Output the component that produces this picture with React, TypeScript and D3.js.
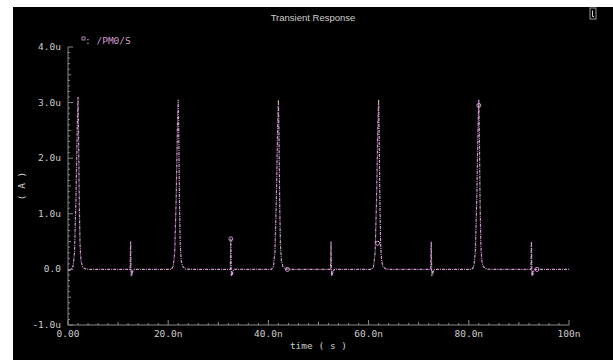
import React from "react";
import * as d3 from "d3";

const W = 613;
const H = 360;

const title = "Transient Response";
const xLabel = "time ( s )";
const yLabel = "( A )";
const legendName = ": /PM0/S";

// x ticks (ns) and labels
const xTickValues = [0, 20, 40, 60, 80, 100];
const xTickLabels = ["0.00", "20.0n", "40.0n", "60.0n", "80.0n", "100n"];
// y ticks (uA) and labels
const yTickValues = [-1, 0, 1, 2, 3, 4];
const yTickLabels = ["-1.0u", "0.0", "1.0u", "2.0u", "3.0u", "4.0u"];

// waveform: time (ns) and current (uA)
const timeNs = [
  0, 0.6, 1.0, 1.3, 1.6, 1.85, 2.0, 2.1, 2.25, 2.4, 2.6, 2.9, 3.4, 4.5,
  12.4, 12.5, 12.6, 12.7, 12.8, 12.9, 13.0, 13.2,
  20.6, 21.0, 21.3, 21.6, 21.85, 22.0, 22.1, 22.25, 22.4, 22.6, 22.9, 23.4, 24.5,
  32.4, 32.5, 32.6, 32.7, 32.8, 32.9, 33.0, 33.2,
  40.6, 41.0, 41.3, 41.6, 41.85, 42.0, 42.1, 42.25, 42.4, 42.6, 42.9, 43.4, 44.5,
  52.4, 52.5, 52.6, 52.7, 52.8, 52.9, 53.0, 53.2,
  60.6, 61.0, 61.3, 61.6, 61.85, 62.0, 62.1, 62.25, 62.4, 62.6, 62.9, 63.4, 64.5,
  72.4, 72.5, 72.6, 72.7, 72.8, 72.9, 73.0, 73.2,
  80.6, 81.0, 81.3, 81.6, 81.85, 82.0, 82.1, 82.25, 82.4, 82.6, 82.9, 83.4, 84.5,
  92.4, 92.5, 92.6, 92.7, 92.8, 92.9, 93.0, 93.2,
  100,
];
const currentUA = [
  -0.02, -0.01, 0.05, 0.3, 1.3, 2.6, 3.1, 2.5, 1.2, 0.45, 0.15, 0.05, 0.01, 0.0,
  0.0, 0.5, -0.12, -0.03, -0.1, -0.04, -0.02, 0.0,
  0.0, 0.05, 0.3, 1.3, 2.6, 3.05, 2.5, 1.2, 0.45, 0.15, 0.05, 0.01, 0.0,
  0.0, 0.55, -0.12, -0.03, -0.1, -0.04, -0.02, 0.0,
  0.0, 0.05, 0.3, 1.3, 2.6, 3.05, 2.5, 1.2, 0.45, 0.15, 0.05, 0.01, 0.0,
  0.0, 0.5, -0.12, -0.03, -0.1, -0.04, -0.02, 0.0,
  0.0, 0.05, 0.3, 1.3, 2.6, 3.05, 2.5, 1.2, 0.45, 0.15, 0.05, 0.01, 0.0,
  0.0, 0.5, -0.12, -0.03, -0.1, -0.04, -0.02, 0.0,
  0.0, 0.05, 0.3, 1.3, 2.6, 3.05, 2.5, 1.2, 0.45, 0.15, 0.05, 0.01, 0.0,
  0.0, 0.5, -0.12, -0.03, -0.1, -0.04, -0.02, 0.0,
  0.0,
];

// marker symbols on the trace (time ns, current uA)
const markerTimes = [32.5, 43.8, 61.8, 82.0, 93.6];
const markerValues = [0.55, 0.0, 0.47, 2.95, 0.0];

const bg = "#000000";
const axisColor = "#8a8a8a";
const textColor = "#cccccc";
const traceColor = "#d09ccf";
const mono = "'DejaVu Sans Mono', monospace";

export default function App() {
  const x = d3.scaleLinear().domain([0, 100]).range([68, 569]);
  const y = d3.scaleLinear().domain([-1, 4]).range([325, 47]);

  const pts: [number, number][] = timeNs.map((t, i) => [t, currentUA[i]]);
  const line = d3
    .line<[number, number]>()
    .x((d) => x(d[0]))
    .y((d) => y(d[1]));

  const xMinor = d3.range(0, 101, 2);
  const yMinor = d3.range(-10, 41).map((v) => v / 10);

  return (
    <svg
      width={W}
      height={H}
      style={{ position: "absolute", left: 0, top: 0, display: "block" }}
    >
      <rect x={0} y={0} width={W} height={H} fill="#ffffff" />
      <rect x={13} y={7} width={W - 13} height={H - 7} fill={bg} />

      <text
        x={313}
        y={21}
        fill={textColor}
        fontFamily="'Liberation Sans', sans-serif"
        fontSize={9.5}
        textAnchor="middle"
      >
        {title}
      </text>

      {/* top-right icon */}
      <rect x={590} y={8} width={6} height={11} fill="none" stroke="#9a9a9a" strokeWidth={1} />
      <path d="M592.5,10.5 V16.5 H594" fill="none" stroke="#cfcfcf" strokeWidth={1} />

      {/* axes */}
      <line x1={x(0)} x2={x(0)} y1={y(4)} y2={y(-1)} stroke={axisColor} />
      <line x1={x(0)} x2={x(100)} y1={y(-1)} y2={y(-1)} stroke={axisColor} />
      {yMinor.map((v, i) => (
        <line
          key={"ym" + i}
          x1={x(0)}
          x2={x(0) + (Math.abs(v - Math.round(v)) < 1e-6 ? 5 : Math.abs(v * 2 - Math.round(v * 2)) < 1e-6 ? 3 : 2)}
          y1={y(v)}
          y2={y(v)}
          stroke={axisColor}
        />
      ))}
      {xMinor.map((v, i) => (
        <line
          key={"xm" + i}
          x1={x(v)}
          x2={x(v)}
          y1={y(-1)}
          y2={y(-1) - (v % 20 === 0 ? 5 : v % 10 === 0 ? 3 : 2)}
          stroke={axisColor}
        />
      ))}
      {xTickValues.map((v, i) => (
        <text
          key={"xl" + i}
          x={x(v)}
          y={y(-1) + 12}
          fill={textColor}
          fontFamily={mono}
          fontSize={9.5}
          textAnchor="middle"
        >
          {xTickLabels[i]}
        </text>
      ))}
      {yTickValues.map((v, i) => (
        <text
          key={"yl" + i}
          x={x(0) - 7}
          y={y(v) + 3}
          fill={textColor}
          fontFamily={mono}
          fontSize={9.5}
          textAnchor="end"
        >
          {yTickLabels[i]}
        </text>
      ))}
      <text
        x={(x(0) + x(100)) / 2}
        y={y(-1) + 24}
        fill={textColor}
        fontFamily={mono}
        fontSize={9.5}
        textAnchor="middle"
      >
        {xLabel}
      </text>
      <text
        transform={`translate(25,${y(1.5)}) rotate(-90)`}
        fill={textColor}
        fontFamily={mono}
        fontSize={9.5}
        textAnchor="middle"
      >
        {yLabel}
      </text>

      {/* legend */}
      <rect x={82} y={37} width={3} height={3} fill="none" stroke={traceColor} strokeWidth={0.8} />
      <text x={85} y={44} fill={traceColor} fontFamily={mono} fontSize={9.5}>
        {legendName}
      </text>

      {/* trace */}
      <path
        d={line(pts) || ""}
        fill="none"
        stroke={traceColor}
        strokeWidth={1.2}
        strokeDasharray="3,1,1,1"
      />
      {markerTimes.map((t, i) => (
        <circle
          key={"mk" + i}
          cx={x(t)}
          cy={y(markerValues[i])}
          r={2}
          fill="none"
          stroke={traceColor}
          strokeWidth={1}
        />
      ))}
    </svg>
  );
}
